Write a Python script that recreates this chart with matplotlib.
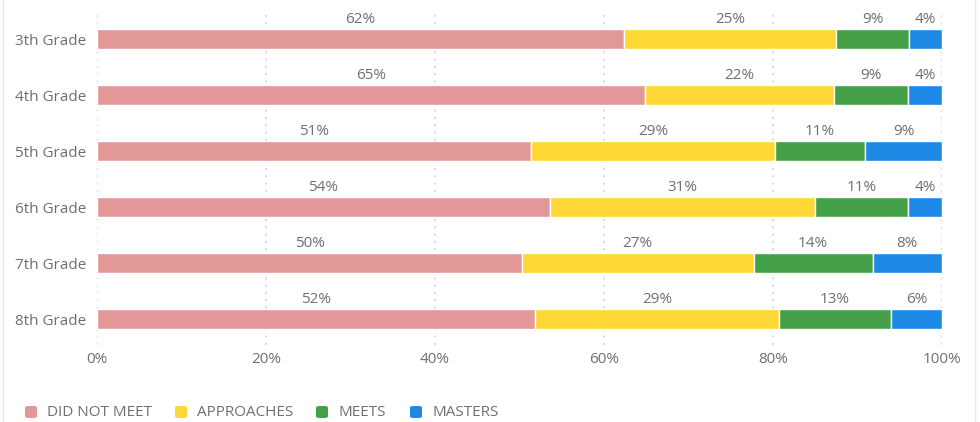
import matplotlib
matplotlib.use("Agg")
import matplotlib.pyplot as plt
from matplotlib.patches import FancyBboxPatch
from matplotlib.lines import Line2D
import numpy as np

plt.rcParams['font.family'] = ['Open Sans', 'DejaVu Sans']

grades = ["3th Grade", "4th Grade", "5th Grade", "6th Grade", "7th Grade", "8th Grade"]
series_names = ["DID NOT MEET", "APPROACHES", "MEETS", "MASTERS"]
did_not_meet = [62.4, 64.9, 51.4, 53.6, 50.3, 51.8]
approaches = [25.1, 22.3, 28.8, 31.4, 27.4, 28.9]
meets = [8.6, 8.8, 10.7, 11.0, 14.1, 13.3]
masters = [3.9, 4.0, 9.1, 4.0, 8.2, 6.0]
x_ticks = [0, 20, 40, 60, 80, 100]
colors = ["#E29896", "#FDD835", "#43A047", "#1E88E5"]
text_color = "#6f6f6f"
fs = 11

W, H = 980, 422
fig = plt.figure(figsize=(W / 100, H / 100), dpi=100)
ax_l, ax_r, ax_t, ax_b = 97, 942, 10, 345
ax = fig.add_axes([ax_l / W, 1 - ax_b / H, (ax_r - ax_l) / W, (ax_b - ax_t) / H])

data = np.array([did_not_meet, approaches, meets, masters], dtype=float)
totals = data.sum(axis=0)
pct = data / totals * 100

y = np.arange(len(grades))
left = np.zeros(len(grades))
bar_h = 0.36
for i, name in enumerate(series_names):
    ax.barh(y, pct[i], left=left, height=bar_h, color=colors[i],
            edgecolor="white", linewidth=1.0, zorder=3, label=name)
    for j in range(len(grades)):
        cx = left[j] + pct[i][j] / 2
        ax.text(cx, y[j] - bar_h / 2 - 0.035, f"{data[i][j]:.0f}%", ha="center", va="bottom",
                fontsize=fs, color=text_color, zorder=4)
    left += pct[i]

ax.set_xlim(0, 100)
ax.set_ylim(len(grades) - 1 + 0.46, -0.52)
ax.set_xticks(x_ticks)
ax.set_xticklabels([f"{t}%" for t in x_ticks])
ax.set_yticks(y)
ax.set_yticklabels(grades)
ax.tick_params(axis="both", length=0, labelsize=fs, labelcolor=text_color)
ax.tick_params(axis="x", pad=5)
ax.tick_params(axis="y", pad=8)
for s in ax.spines.values():
    s.set_visible(False)
ax.grid(axis="x", color="#dcdcdc", linestyle=(0, (1.0, 2.5)), linewidth=1.5, zorder=0)
ax.set_axisbelow(True)

# legend (manual)
leg_y = 1 - 412 / H
marker_x = [25, 175, 316, 410]
for i, name in enumerate(series_names):
    mx = marker_x[i]
    p = FancyBboxPatch((mx / W, leg_y - 6 / H), 12 / W, 12 / H,
                       boxstyle="round,pad=0,rounding_size=0.004",
                       transform=fig.transFigure, facecolor=colors[i], edgecolor="none")
    fig.patches.append(p)
    fig.text((mx + 22) / W, leg_y, name, ha="left", va="center", fontsize=fs, color=text_color)

# page border lines
fig.add_artist(Line2D([3 / W, 3 / W], [0, 1], transform=fig.transFigure, color="#e8e8e8", linewidth=1))
fig.add_artist(Line2D([975 / W, 975 / W], [0, 1], transform=fig.transFigure, color="#e8e8e8", linewidth=1))

fig.savefig("out.png", dpi=100)
